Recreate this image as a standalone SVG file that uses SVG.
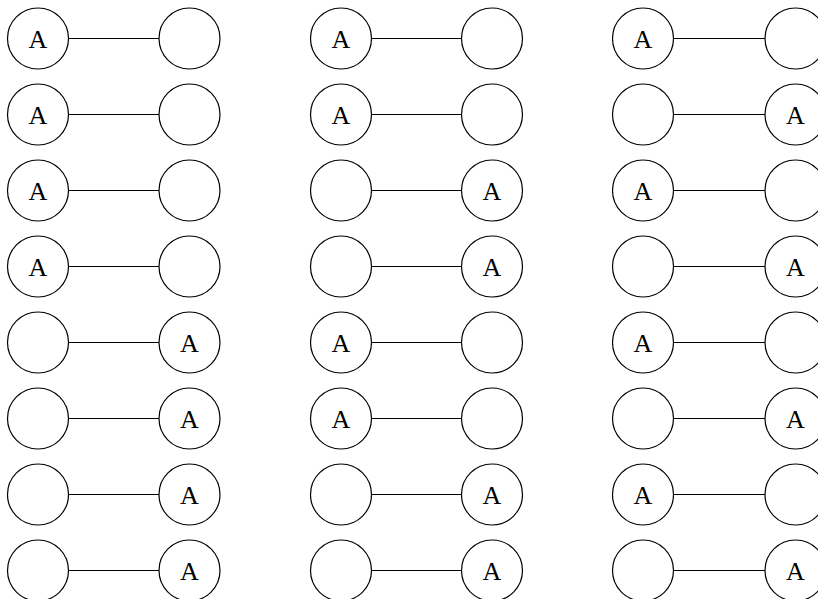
<svg xmlns="http://www.w3.org/2000/svg" width="818" height="599" viewBox="0 0 818 599">
<style>
circle{fill:#fff;stroke:#000;stroke-width:1.2}
line{stroke:#000;stroke-width:1.2}
text{font-family:"Liberation Serif","Times New Roman",serif;font-size:26px;text-anchor:middle;fill:#000}
</style>
<rect width="818" height="599" fill="#fff"/>
<g id="edges">
<line x1="68.5" y1="38.5" x2="159" y2="38.5"/>
<line x1="68.5" y1="114.5" x2="159" y2="114.5"/>
<line x1="68.5" y1="190.5" x2="159" y2="190.5"/>
<line x1="68.5" y1="266.5" x2="159" y2="266.5"/>
<line x1="68.5" y1="342.5" x2="159" y2="342.5"/>
<line x1="68.5" y1="418.5" x2="159" y2="418.5"/>
<line x1="68.5" y1="494.5" x2="159" y2="494.5"/>
<line x1="68.5" y1="570.5" x2="159" y2="570.5"/>
<line x1="371.5" y1="38.5" x2="462" y2="38.5"/>
<line x1="371.5" y1="114.5" x2="462" y2="114.5"/>
<line x1="371.5" y1="190.5" x2="462" y2="190.5"/>
<line x1="371.5" y1="266.5" x2="462" y2="266.5"/>
<line x1="371.5" y1="342.5" x2="462" y2="342.5"/>
<line x1="371.5" y1="418.5" x2="462" y2="418.5"/>
<line x1="371.5" y1="494.5" x2="462" y2="494.5"/>
<line x1="371.5" y1="570.5" x2="462" y2="570.5"/>
<line x1="673.5" y1="38.5" x2="765" y2="38.5"/>
<line x1="673.5" y1="114.5" x2="765" y2="114.5"/>
<line x1="673.5" y1="190.5" x2="765" y2="190.5"/>
<line x1="673.5" y1="266.5" x2="765" y2="266.5"/>
<line x1="673.5" y1="342.5" x2="765" y2="342.5"/>
<line x1="673.5" y1="418.5" x2="765" y2="418.5"/>
<line x1="673.5" y1="494.5" x2="765" y2="494.5"/>
<line x1="673.5" y1="570.5" x2="765" y2="570.5"/>
</g>
<g id="c1r1a"><circle cx="38" cy="38.5" r="30.5"/><text x="38" y="47.5">A</text></g>
<g id="c1r1b"><circle cx="189.5" cy="38.5" r="30.5"/></g>
<g id="c1r2a"><circle cx="38" cy="114.5" r="30.5"/><text x="38" y="123.5">A</text></g>
<g id="c1r2b"><circle cx="189.5" cy="114.5" r="30.5"/></g>
<g id="c1r3a"><circle cx="38" cy="190.5" r="30.5"/><text x="38" y="199.5">A</text></g>
<g id="c1r3b"><circle cx="189.5" cy="190.5" r="30.5"/></g>
<g id="c1r4a"><circle cx="38" cy="266.5" r="30.5"/><text x="38" y="275.5">A</text></g>
<g id="c1r4b"><circle cx="189.5" cy="266.5" r="30.5"/></g>
<g id="c1r5a"><circle cx="38" cy="342.5" r="30.5"/></g>
<g id="c1r5b"><circle cx="189.5" cy="342.5" r="30.5"/><text x="189.5" y="351.5">A</text></g>
<g id="c1r6a"><circle cx="38" cy="418.5" r="30.5"/></g>
<g id="c1r6b"><circle cx="189.5" cy="418.5" r="30.5"/><text x="189.5" y="427.5">A</text></g>
<g id="c1r7a"><circle cx="38" cy="494.5" r="30.5"/></g>
<g id="c1r7b"><circle cx="189.5" cy="494.5" r="30.5"/><text x="189.5" y="503.5">A</text></g>
<g id="c1r8a"><circle cx="38" cy="570.5" r="30.5"/></g>
<g id="c1r8b"><circle cx="189.5" cy="570.5" r="30.5"/><text x="189.5" y="579.5">A</text></g>
<g id="c2r1a"><circle cx="341" cy="38.5" r="30.5"/><text x="341" y="47.5">A</text></g>
<g id="c2r1b"><circle cx="492" cy="38.5" r="30.5"/></g>
<g id="c2r2a"><circle cx="341" cy="114.5" r="30.5"/><text x="341" y="123.5">A</text></g>
<g id="c2r2b"><circle cx="492" cy="114.5" r="30.5"/></g>
<g id="c2r3a"><circle cx="341" cy="190.5" r="30.5"/></g>
<g id="c2r3b"><circle cx="492" cy="190.5" r="30.5"/><text x="492" y="199.5">A</text></g>
<g id="c2r4a"><circle cx="341" cy="266.5" r="30.5"/></g>
<g id="c2r4b"><circle cx="492" cy="266.5" r="30.5"/><text x="492" y="275.5">A</text></g>
<g id="c2r5a"><circle cx="341" cy="342.5" r="30.5"/><text x="341" y="351.5">A</text></g>
<g id="c2r5b"><circle cx="492" cy="342.5" r="30.5"/></g>
<g id="c2r6a"><circle cx="341" cy="418.5" r="30.5"/><text x="341" y="427.5">A</text></g>
<g id="c2r6b"><circle cx="492" cy="418.5" r="30.5"/></g>
<g id="c2r7a"><circle cx="341" cy="494.5" r="30.5"/></g>
<g id="c2r7b"><circle cx="492" cy="494.5" r="30.5"/><text x="492" y="503.5">A</text></g>
<g id="c2r8a"><circle cx="341" cy="570.5" r="30.5"/></g>
<g id="c2r8b"><circle cx="492" cy="570.5" r="30.5"/><text x="492" y="579.5">A</text></g>
<g id="c3r1a"><circle cx="643" cy="38.5" r="30.5"/><text x="643" y="47.5">A</text></g>
<g id="c3r1b"><circle cx="795.5" cy="38.5" r="30.5"/></g>
<g id="c3r2a"><circle cx="643" cy="114.5" r="30.5"/></g>
<g id="c3r2b"><circle cx="795.5" cy="114.5" r="30.5"/><text x="795.5" y="123.5">A</text></g>
<g id="c3r3a"><circle cx="643" cy="190.5" r="30.5"/><text x="643" y="199.5">A</text></g>
<g id="c3r3b"><circle cx="795.5" cy="190.5" r="30.5"/></g>
<g id="c3r4a"><circle cx="643" cy="266.5" r="30.5"/></g>
<g id="c3r4b"><circle cx="795.5" cy="266.5" r="30.5"/><text x="795.5" y="275.5">A</text></g>
<g id="c3r5a"><circle cx="643" cy="342.5" r="30.5"/><text x="643" y="351.5">A</text></g>
<g id="c3r5b"><circle cx="795.5" cy="342.5" r="30.5"/></g>
<g id="c3r6a"><circle cx="643" cy="418.5" r="30.5"/></g>
<g id="c3r6b"><circle cx="795.5" cy="418.5" r="30.5"/><text x="795.5" y="427.5">A</text></g>
<g id="c3r7a"><circle cx="643" cy="494.5" r="30.5"/><text x="643" y="503.5">A</text></g>
<g id="c3r7b"><circle cx="795.5" cy="494.5" r="30.5"/></g>
<g id="c3r8a"><circle cx="643" cy="570.5" r="30.5"/></g>
<g id="c3r8b"><circle cx="795.5" cy="570.5" r="30.5"/><text x="795.5" y="579.5">A</text></g>
</svg>
